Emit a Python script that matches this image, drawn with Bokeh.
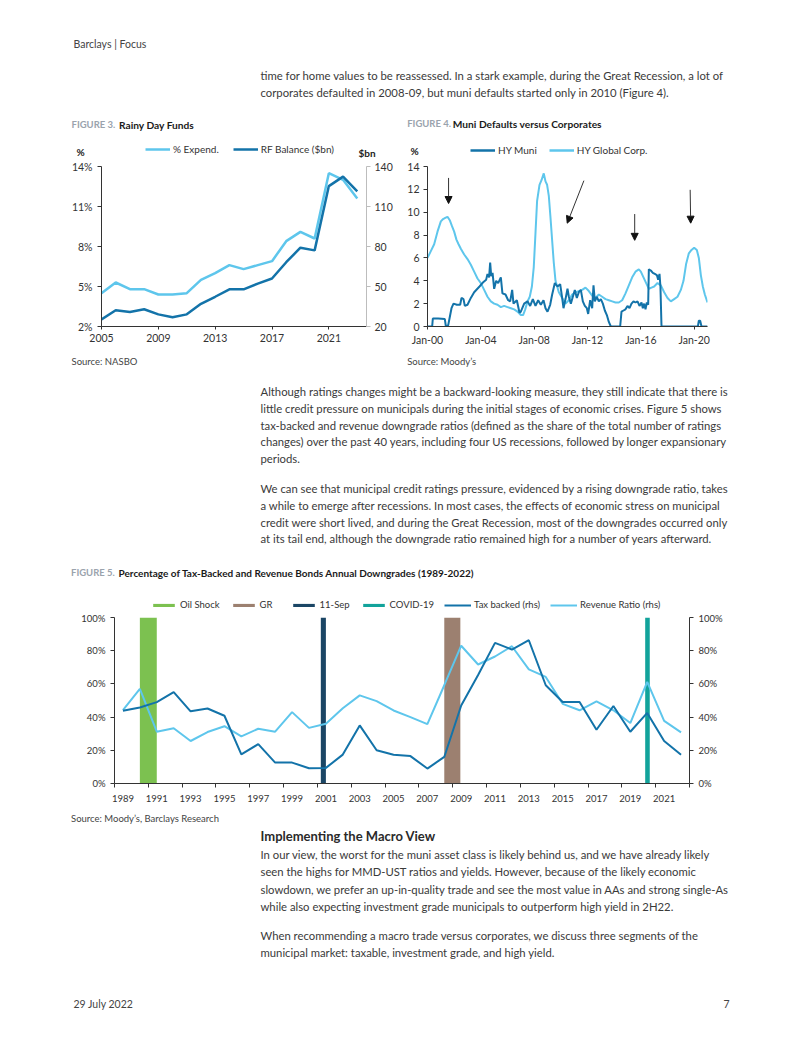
from bokeh.plotting import figure
from bokeh.layouts import column, row
from bokeh.models import (Range1d, LinearAxis, FixedTicker, PrintfTickFormatter, Legend,
                          LegendItem, Arrow, NormalHead)
from bokeh.core.properties import value
from bokeh.embed import file_html
from bokeh.resources import INLINE

BODY = "Lato"
CHART = "Lato"
TXT = "#3a3a3a"
LIGHT = "#5ec6ec"
DARK = "#1373a9"
BSIZE = "11.3px"
NAN = float("nan")

# ---------------- Figure 3 data ----------------
fig3_years = list(range(2005, 2024))
fig3_pct_expend = [4.5, 5.3, 4.8, 4.8, 4.4, 4.4, 4.5, 5.5, 6.0, 6.6, 6.3, 6.6, 6.9, 8.4, 9.1, 8.6, 13.5, 13.0, 11.6]
fig3_rf_balance = [25.3, 32.2, 30.9, 32.9, 29.1, 26.9, 29.1, 37.0, 42.3, 47.9, 47.9, 52.2, 56.0, 68.2, 79.1, 77.1, 125.3, 132.4, 121.3]
fig3_x_ticks = [2005, 2009, 2013, 2017, 2021]
fig3_left_ticks = [2, 5, 8, 11, 14]
fig3_right_ticks = [20, 50, 80, 110, 140]

# ---------------- Figure 4 data ----------------
fig4_corp_t = [2000.0, 2000.25, 2000.5, 2000.75, 2001.0, 2001.17, 2001.33, 2001.5, 2001.67, 2001.83,
               2002.0, 2002.17, 2002.33, 2002.5, 2002.75, 2003.0, 2003.25, 2003.5, 2003.75, 2004.0,
               2004.25, 2004.5, 2004.75, 2005.0, 2005.25, 2005.5, 2005.75, 2006.0, 2006.25, 2006.5,
               2006.75, 2007.0, 2007.17, 2007.33, 2007.5, 2007.67, 2007.83, 2007.97, 2008.1, 2008.22,
               2008.4, 2008.55, 2008.72, 2008.85, 2008.97, 2009.1, 2009.22, 2009.35, 2009.47, 2009.6,
               2009.85, 2010.1, 2010.35, 2010.6, 2010.85, 2011.1, 2011.35, 2011.6, 2011.85, 2012.1,
               2012.35, 2012.6, 2012.85, 2013.1, 2013.35, 2013.6, 2013.85, 2014.1, 2014.35, 2014.6,
               2014.85, 2015.1, 2015.35, 2015.6, 2015.85, 2016.0, 2016.2, 2016.4, 2016.6, 2016.8,
               2017.0, 2017.25, 2017.5, 2017.75, 2018.0, 2018.25, 2018.5, 2018.75, 2019.0, 2019.2,
               2019.4, 2019.6, 2019.8, 2020.0, 2020.2, 2020.35, 2020.5, 2020.65, 2020.8, 2021.0]
fig4_corp_v = [6.0, 6.6, 7.2, 8.3, 9.2, 9.4, 9.5, 9.6, 9.3, 8.8,
               8.3, 7.6, 7.2, 6.8, 6.3, 5.9, 5.4, 4.8, 4.2, 3.8,
               3.2, 2.6, 2.2, 2.0, 1.9, 1.7, 1.8, 1.7, 1.6, 1.5,
               1.3, 1.0, 1.0, 1.5, 2.2, 2.6, 3.5, 5.2, 8.2, 11.0,
               12.4, 12.8, 13.4, 12.7, 12.4, 11.4, 9.6, 7.5, 5.6, 4.0,
               3.0, 2.5, 2.0, 2.3, 2.8, 3.0, 3.1, 3.2, 3.4, 3.1,
               2.7, 2.5, 2.8, 2.6, 2.4, 2.3, 2.2, 2.1, 2.1, 2.3,
               2.9, 3.6, 4.3, 4.8, 5.0, 4.8, 4.3, 3.8, 3.3, 3.4,
               3.5, 3.8, 3.6, 3.0, 2.5, 2.2, 2.4, 2.6, 3.2, 4.0,
               5.5, 6.4, 6.7, 6.9, 6.7, 6.0, 4.5, 3.5, 2.8, 2.1]
fig4_muni_t = [2000.0, 2000.35, 2000.4, 2000.8, 2001.3, 2001.38, 2001.55, 2001.65, 2001.8, 2001.95,
               2002.2, 2002.45, 2002.55, 2002.7, 2002.8, 2003.0, 2003.25, 2003.5, 2003.9, 2004.2,
               2004.4, 2004.5, 2004.62, 2004.7, 2004.78, 2004.88, 2005.0, 2005.15, 2005.3, 2005.5,
               2005.62, 2005.85, 2006.05, 2006.2, 2006.35, 2006.45, 2006.7, 2006.9, 2007.0, 2007.25,
               2007.5, 2007.7, 2007.9, 2008.1, 2008.3, 2008.5, 2008.7, 2008.85, 2009.0, 2009.2,
               2009.35, 2009.55, 2009.75, 2009.95, 2010.1, 2010.2, 2010.35, 2010.5, 2010.6, 2010.75,
               2010.9, 2011.05, 2011.2, 2011.35, 2011.5, 2011.65, 2011.8, 2011.95, 2012.05, 2012.2,
               2012.35, 2012.45, 2012.55, 2012.7, 2012.85, 2013.0, 2013.15, 2013.3, 2013.45, 2013.6,
               2013.75, 2014.45, 2014.55, 2014.7, 2014.85, 2015.0, 2015.15, 2015.3, 2015.45, 2015.6,
               2015.75, 2015.9, 2016.05, 2016.15, 2016.25, 2016.35, 2016.45, 2016.55, 2016.6, 2016.75,
               2016.9, 2017.05, 2017.2, 2017.3, 2017.4, 2017.47, 2017.55, 2020.28, 2020.35, 2020.45,
               2020.55, 2021.0]
fig4_muni_v = [0.0, 0.0, 0.7, 0.7, 0.65, 0.0, 0.1, 0.7, 1.6, 2.0,
               1.9, 1.9, 2.5, 2.4, 1.8, 1.9, 2.5, 3.0, 3.5, 3.9,
               4.1, 4.6, 4.3, 5.6, 4.4, 4.7, 3.3, 4.0, 3.8, 4.3,
               2.9, 2.8, 2.3, 2.2, 3.2, 2.0, 2.3, 1.2, 1.3, 2.0,
               2.2, 1.8, 2.4, 1.8, 2.3, 1.9, 2.3, 1.6, 1.3, 1.9,
               2.8, 3.8, 3.5, 3.7, 2.5, 1.6, 2.4, 3.3, 2.6, 2.0,
               2.6, 3.2, 2.5, 3.0, 3.2, 2.2, 1.8, 1.6, 1.1, 2.3,
               1.6, 3.6, 2.2, 2.6, 2.2, 2.4, 2.0, 1.4, 1.0, 0.4,
               0.0, 0.0, 1.3, 1.4, 1.5, 1.8, 1.6, 2.0, 2.2, 2.1,
               2.2, 1.8, 2.1, 1.6, 2.0, 1.5, 2.1, 1.9, 5.0, 4.9,
               4.7, 4.6, 4.5, 4.1, 4.6, 3.5, 0.0, 0.0, 0.5, 0.5,
               0.0, 0.0]
fig4_x_ticks = [2000, 2004, 2008, 2012, 2016, 2020]
fig4_x_labels = ["Jan-00", "Jan-04", "Jan-08", "Jan-12", "Jan-16", "Jan-20"]
fig4_y_ticks = [0, 2, 4, 6, 8, 10, 12, 14]
fig4_arrow_x0 = [2001.58, 2011.73, 2015.54, 2019.70]
fig4_arrow_y0 = [13.0, 12.76, 9.84, 11.96]
fig4_arrow_x1 = [2001.58, 2010.48, 2015.54, 2019.74]
fig4_arrow_y1 = [10.76, 9.04, 7.54, 9.04]

# ---------------- Figure 5 data ----------------
fig5_years = list(range(1989, 2023))
fig5_tax_backed = [43.8, 45.8, 49.0, 55.0, 43.5, 45.2, 40.8, 17.5, 23.7, 12.6, 12.6, 9.2, 9.4, 17.4,
                   35.0, 20.0, 17.3, 16.5, 9.0, 16.0, 47.0, 65.4, 84.7, 80.7, 86.3, 59.2, 49.1, 49.1,
                   32.4, 46.7, 31.2, 42.5, 25.6, 17.3]
fig5_revenue = [44.2, 57.0, 31.2, 33.3, 25.6, 31.0, 34.5, 28.4, 33.0, 31.2, 43.0, 33.5, 36.0, 45.3,
                53.1, 49.6, 44.0, 40.0, 35.8, 59.2, 83.0, 71.7, 76.5, 82.7, 68.7, 64.2, 48.0, 44.1,
                49.5, 44.1, 36.4, 61.2, 37.7, 30.8]
fig5_events = ["Oil Shock", "GR", "11-Sep", "COVID-19"]
fig5_event_start = [1990.0, 2008.0, 2000.7, 2019.88]
fig5_event_end = [1991.0, 2008.95, 2001.0, 2020.15]
fig5_event_colors = ["#7cc150", "#9c8070", "#1b4665", "#12a39b"]
fig5_x_labels = list(range(1989, 2022, 2))
fig5_x_bounds = [y + 0.5 for y in range(1988, 2023, 2)]
fig5_y_ticks = [0, 20, 40, 60, 80, 100]


def text_band(height, lines):
    p = figure(width=802, height=height, x_range=Range1d(0, 802), y_range=Range1d(height, 0),
               x_axis_type=None, y_axis_type=None, toolbar_location=None, output_backend="svg",
               min_border=0, min_border_left=0, min_border_right=0, min_border_top=0,
               min_border_bottom=0, outline_line_color=None)
    for (x, y, txt, size, style, color, align) in lines:
        p.text(x=[x], y=[y], text=[txt], text_font=value(BODY), text_font_size=size,
               text_font_style=style, text_color=color, text_baseline="middle", text_align=align)
    return p


def style_axis(ax, color="#333333", size="10.5px", font=CHART, standoff=4):
    ax.axis_line_color = color
    ax.major_tick_line_color = color
    ax.major_tick_in = 0
    ax.major_tick_out = 4
    ax.minor_tick_line_color = None
    ax.major_label_text_font = font
    ax.major_label_text_font_size = size
    ax.major_label_text_color = "#333333"
    ax.major_label_standoff = standoff


def make_legend(items, loc, spacing, gw=25, size="10px"):
    return Legend(items=items, location=loc, orientation="horizontal", border_line_color=None,
                  background_fill_alpha=0, padding=0, margin=0, spacing=spacing,
                  label_standoff=3, glyph_width=gw, glyph_height=4, label_height=12,
                  label_text_font=CHART, label_text_font_size=size, label_text_color="#333333")


def key_line(band, color, width):
    # legend key for a series drawn in a chart below/beside this band
    return band.line(x=[NAN], y=[NAN], line_color=color, line_width=width)


def key_box(band, color):
    return band.quad(left=[NAN], right=[NAN], bottom=[NAN], top=[NAN], fill_color=color, line_color=None)


# ---------------- Top band: header, text, fig 3/4 titles, units, legends ----------------
TOP_H = 159
band_top = text_band(TOP_H, [
    (73, 43, "Barclays | Focus", "10.5px", "normal", "#444444", "left"),
    (260, 75, "time for home values to be reassessed. In a stark example, during the Great Recession, a lot of", BSIZE, "normal", TXT, "left"),
    (260, 92, "corporates defaulted in 2008-09, but muni defaults started only in 2010 (Figure 4).", BSIZE, "normal", TXT, "left"),
    (71, 124.3, "FIGURE 3.", "9.5px", "bold", "#9aa3ad", "left"),
    (118.5, 124.3, "Rainy Day Funds", "10.2px", "bold", "#1a1a1a", "left"),
    (406.7, 123.3, "FIGURE 4.", "9.5px", "bold", "#9aa3ad", "left"),
    (452.3, 123.3, "Muni Defaults versus Corporates", "10.2px", "bold", "#1a1a1a", "left"),
    (76, 151, "%", "10px", "bold", "#222222", "left"),
    (358, 152, "$bn", "10px", "bold", "#222222", "left"),
    (410, 150, "%", "10px", "bold", "#222222", "left"),
])
band_top.add_layout(make_legend([LegendItem(label="% Expend.", renderers=[key_line(band_top, LIGHT, 2.5)]),
                                 LegendItem(label="RF Balance ($bn)", renderers=[key_line(band_top, DARK, 2.5)])],
                                (145, TOP_H - 154.5), 14))
band_top.add_layout(make_legend([LegendItem(label="HY Muni", renderers=[key_line(band_top, DARK, 2.5)]),
                                 LegendItem(label="HY Global Corp.", renderers=[key_line(band_top, LIGHT, 2.5)])],
                                (470, TOP_H - 155.8), 12))

# ---------------- Figure 3 ----------------
ROW_H = 191
f3 = figure(width=395, height=ROW_H, x_range=Range1d(2005, 2023.65), y_range=Range1d(2, 14),
            toolbar_location=None, output_backend="svg", min_border_left=101, min_border_right=26,
            min_border_top=7, min_border_bottom=24, outline_line_color=None)
f3.extra_y_ranges = {"bn": Range1d(20, 140)}
f3.xgrid.visible = False
f3.ygrid.visible = False
r_exp = f3.line(fig3_years, fig3_pct_expend, line_color=LIGHT, line_width=2.5)
r_rf = f3.line(fig3_years, fig3_rf_balance, line_color=DARK, line_width=2.5, y_range_name="bn")
f3.xaxis.ticker = FixedTicker(ticks=fig3_x_ticks)
f3.yaxis.ticker = FixedTicker(ticks=fig3_left_ticks)
f3.yaxis.formatter = PrintfTickFormatter(format="%d%%")
style_axis(f3.xaxis[0])
style_axis(f3.yaxis[0], standoff=5)
f3.xaxis.major_tick_out = 3
ax3r = LinearAxis(y_range_name="bn", ticker=FixedTicker(ticks=fig3_right_ticks))
style_axis(ax3r, color="#bdbdbd", standoff=4)
f3.add_layout(ax3r, "right")

# ---------------- Figure 4 ----------------
f4 = figure(width=407, height=ROW_H, x_range=Range1d(2000, 2021), y_range=Range1d(0, 14),
            toolbar_location=None, output_backend="svg", min_border_left=32, min_border_right=95,
            min_border_top=7, min_border_bottom=24, outline_line_color=None)
f4.xgrid.visible = False
f4.ygrid.visible = False
r_corp = f4.line(fig4_corp_t, fig4_corp_v, line_color=LIGHT, line_width=2)
r_muni = f4.line(fig4_muni_t, fig4_muni_v, line_color=DARK, line_width=2)
f4.xaxis.ticker = FixedTicker(ticks=fig4_x_ticks)
f4.xaxis.major_label_overrides = {t: l for t, l in zip(fig4_x_ticks, fig4_x_labels)}
f4.yaxis.ticker = FixedTicker(ticks=fig4_y_ticks)
style_axis(f4.xaxis[0])
style_axis(f4.yaxis[0])
f4.xaxis.major_tick_out = 3
for x0, y0, x1, y1 in zip(fig4_arrow_x0, fig4_arrow_y0, fig4_arrow_x1, fig4_arrow_y1):
    f4.add_layout(Arrow(end=NormalHead(size=7, fill_color="#111111", line_color="#111111"),
                        x_start=x0, y_start=y0, x_end=x1, y_end=y1,
                        line_color="#333333", line_width=1))

# ---------------- Middle band: sources, text, fig 5 title and legend ----------------
MID_TOP = 350
F5_TOP = 612
MID_H = F5_TOP - MID_TOP
para_c = [
    "Although ratings changes might be a backward-looking measure, they still indicate that there is",
    "little credit pressure on municipals during the initial stages of economic crises. Figure 5 shows",
    "tax-backed and revenue downgrade ratios (defined as the share of the total number of ratings",
    "changes) over the past 40 years, including four US recessions, followed by longer expansionary",
    "periods.",
]
para_c2 = [
    "We can see that municipal credit ratings pressure, evidenced by a rising downgrade ratio, takes",
    "a while to emerge after recessions. In most cases, the effects of economic stress on municipal",
    "credit were short lived, and during the Great Recession, most of the downgrades occurred only",
    "at its tail end, although the downgrade ratio remained high for a number of years afterward.",
]
lines_mid = [(71, 360.7 - MID_TOP, "Source: NASBO", "9.5px", "normal", "#444444", "left"),
             (406.7, 360.7 - MID_TOP, "Source: Moody\u2019s", "9.5px", "normal", "#444444", "left")]
lines_mid += [(260, 391.3 - MID_TOP + 16.7 * i, t, BSIZE, "normal", TXT, "left") for i, t in enumerate(para_c)]
lines_mid += [(260, 488.3 - MID_TOP + 16.7 * i, t, BSIZE, "normal", TXT, "left") for i, t in enumerate(para_c2)]
lines_mid += [(70.5, 572 - MID_TOP, "FIGURE 5.", "9.5px", "bold", "#9aa3ad", "left"),
              (118, 572 - MID_TOP, "Percentage of Tax-Backed and Revenue Bonds Annual Downgrades (1989-2022)", "10px", "bold", "#1a1a1a", "left")]
band_mid = text_band(MID_H, lines_mid)
items5 = [LegendItem(label=n, renderers=[key_box(band_mid, c)]) for n, c in zip(fig5_events, fig5_event_colors)]
items5 += [LegendItem(label="Tax backed (rhs)", renderers=[key_line(band_mid, DARK, 2)]),
           LegendItem(label="Revenue Ratio (rhs)", renderers=[key_line(band_mid, LIGHT, 2)])]
band_mid.add_layout(make_legend(items5, (150, MID_H - 610.5 + MID_TOP), 10, gw=27, size="9.5px"))

# ---------------- Figure 5 ----------------
F5_H = 194
f5 = figure(width=802, height=F5_H, x_range=Range1d(1988.5, 2022.5), y_range=Range1d(0, 100),
            toolbar_location=None, output_backend="svg", min_border_left=114, min_border_right=113,
            min_border_top=5, min_border_bottom=23, outline_line_color=None)
f5.extra_y_ranges = {"rhs": Range1d(0, 100)}
f5.xgrid.visible = False
f5.ygrid.visible = False
for s, e, c in zip(fig5_event_start, fig5_event_end, fig5_event_colors):
    f5.quad(left=[s], right=[e], bottom=[0], top=[100], fill_color=c, line_color=None)
r_rev = f5.line(fig5_years, fig5_revenue, line_color=LIGHT, line_width=2, y_range_name="rhs")
r_tax = f5.line(fig5_years, fig5_tax_backed, line_color=DARK, line_width=2, y_range_name="rhs")
f5.xaxis.ticker = FixedTicker(ticks=fig5_x_labels, minor_ticks=fig5_x_bounds)
f5.yaxis.ticker = FixedTicker(ticks=fig5_y_ticks)
f5.yaxis.formatter = PrintfTickFormatter(format="%d%%")
style_axis(f5.xaxis[0], size="9.5px", standoff=7)
f5.xaxis.major_tick_line_color = None
f5.xaxis.major_tick_out = 0
f5.xaxis.minor_tick_line_color = "#333333"
f5.xaxis.minor_tick_out = 4
f5.xaxis.minor_tick_in = 0
style_axis(f5.yaxis[0], size="9.5px", standoff=5)
ax5r = LinearAxis(y_range_name="rhs", ticker=FixedTicker(ticks=fig5_y_ticks),
                  formatter=PrintfTickFormatter(format="%d%%"))
style_axis(ax5r, size="9.5px", standoff=5)
f5.add_layout(ax5r, "right")

# ---------------- Bottom band ----------------
BOT_TOP = F5_TOP + F5_H
para_e = [
    "In our view, the worst for the muni asset class is likely behind us, and we have already likely",
    "seen the highs for MMD-UST ratios and yields. However, because of the likely economic",
    "slowdown, we prefer an up-in-quality trade and see the most value in AAs and strong single-As",
    "while also expecting investment grade municipals to outperform high yield in 2H22.",
]
para_e2 = [
    "When recommending a macro trade versus corporates, we discuss three segments of the",
    "municipal market: taxable, investment grade, and high yield.",
]
lines_e = [(70.5, 818 - BOT_TOP, "Source: Moody\u2019s, Barclays Research", "9.5px", "normal", "#444444", "left"),
           (260, 835 - BOT_TOP, "Implementing the Macro View", "13px", "bold", "#2a2a2a", "left")]
lines_e += [(260, 854.3 - BOT_TOP + 17.1 * i, t, BSIZE, "normal", TXT, "left") for i, t in enumerate(para_e)]
lines_e += [(260, 935 - BOT_TOP + 16.7 * i, t, BSIZE, "normal", TXT, "left") for i, t in enumerate(para_e2)]
lines_e += [(73, 1003 - BOT_TOP, "29 July 2022", "10.5px", "normal", "#444444", "left"),
            (729, 1003 - BOT_TOP, "7", "10.5px", "normal", "#444444", "right")]
band_bot = text_band(1037 - BOT_TOP, lines_e)

layout = column(row(band_top), row(f3, f4), row(band_mid), row(f5), row(band_bot))
open("out.html", "w").write(file_html(layout, INLINE))
